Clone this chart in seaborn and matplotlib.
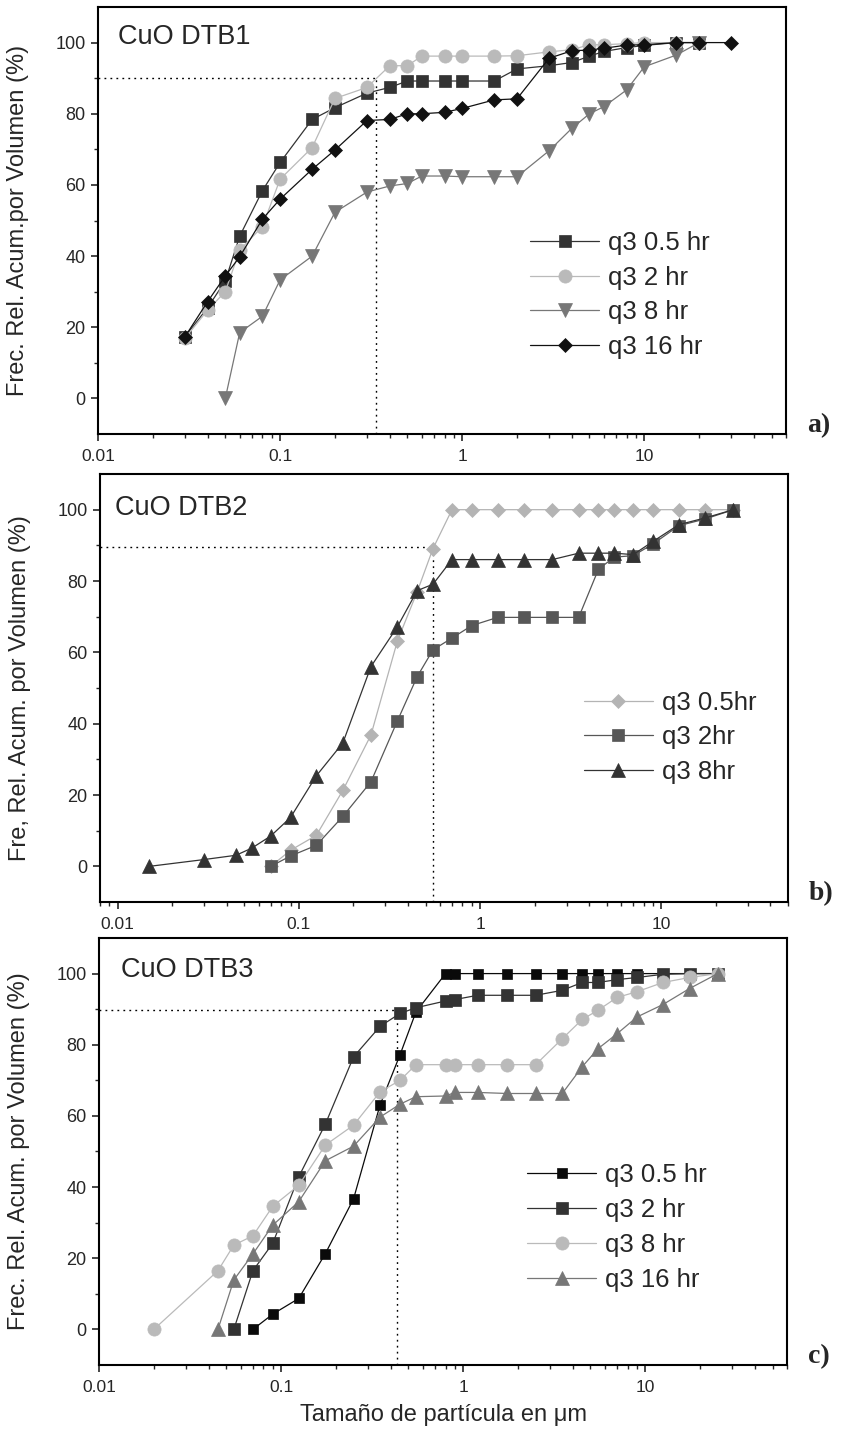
import numpy as np
import pandas as pd
import matplotlib
matplotlib.use("Agg")
import matplotlib.pyplot as plt
import seaborn as sns
from matplotlib.ticker import LogLocator, FixedLocator, NullFormatter, FixedFormatter

# ---------------- data ----------------
# Panel a) CuO DTB1
a_x_q05 = [0.03, 0.04, 0.05, 0.06, 0.08, 0.1, 0.15, 0.2, 0.3, 0.4, 0.5, 0.6, 0.8, 1, 1.5, 2, 3, 4, 5, 6, 8, 10, 15, 20]
a_q05 = [17.3, 25.5, 33, 45.6, 58.4, 66.3, 78.4, 81.7, 85.8, 87.4, 89.2, 89.2, 89.2, 89.2, 89.2, 92.6, 93.5, 94.4, 96.2, 97.5, 98.6, 99.2, 100, 100]
a_x_q2 = [0.03, 0.04, 0.05, 0.06, 0.08, 0.1, 0.15, 0.2, 0.3, 0.4, 0.5, 0.6, 0.8, 1, 1.5, 2, 3, 4, 5, 6, 8, 10, 15, 20]
a_q2 = [16.9, 24.8, 30, 41.7, 48.3, 61.6, 70.5, 84.3, 87.4, 93.5, 93.5, 96.2, 96.2, 96.2, 96.2, 96.3, 97.4, 98, 99.4, 99.4, 99.7, 100, 100, 100]
a_x_q8 = [0.05, 0.06, 0.08, 0.1, 0.15, 0.2, 0.3, 0.4, 0.5, 0.6, 0.8, 1, 1.5, 2, 3, 4, 5, 6, 8, 10, 15, 20]
a_q8 = [0, 18.5, 23.1, 33.3, 40, 52.3, 58, 59.7, 60.4, 62.5, 62.5, 62.3, 62.3, 62.3, 69.6, 75.9, 80, 82, 86.7, 93.2, 96.5, 100]
a_x_q16 = [0.03, 0.04, 0.05, 0.06, 0.08, 0.1, 0.15, 0.2, 0.3, 0.4, 0.5, 0.6, 0.8, 1, 1.5, 2, 3, 4, 5, 6, 8, 10, 15, 20, 30]
a_q16 = [17.3, 27.2, 34.4, 39.8, 50.4, 56, 64.4, 69.8, 78.1, 78.4, 80, 80, 80.4, 81.5, 83.9, 84.2, 95.6, 97.7, 97.9, 98.4, 99.3, 99.4, 100, 100, 100]
a_d90 = 0.338

# Panel b) CuO DTB2
b_x_q05 = [0.07, 0.09, 0.125, 0.175, 0.25, 0.35, 0.45, 0.55, 0.7, 0.9, 1.25, 1.75, 2.5, 3.5, 4.5, 5.5, 7, 9, 12.5, 17.5, 25]
b_q05 = [0, 4.5, 8.7, 21.3, 36.8, 63.2, 77, 89.1, 100, 100, 100, 100, 100, 100, 100, 100, 100, 100, 100, 100, 100]
b_x_q2 = [0.07, 0.09, 0.125, 0.175, 0.25, 0.35, 0.45, 0.55, 0.7, 0.9, 1.25, 1.75, 2.5, 3.5, 4.5, 5.5, 7, 9, 12.5, 17.5, 25]
b_q2 = [0, 2.9, 5.9, 14, 23.7, 40.8, 53.2, 60.7, 64, 67.5, 69.8, 69.8, 69.8, 69.8, 83.3, 86.7, 87.1, 90.4, 95.5, 97.4, 100]
b_x_q8 = [0.015, 0.03, 0.045, 0.055, 0.07, 0.09, 0.125, 0.175, 0.25, 0.35, 0.45, 0.55, 0.7, 0.9, 1.25, 1.75, 2.5, 3.5, 4.5, 5.5, 7, 9, 12.5, 17.5, 25]
b_q8 = [0, 1.9, 3.1, 5.1, 8.5, 13.7, 25.4, 34.6, 56, 67.2, 77.3, 79.1, 86, 86, 86, 86, 86, 87.8, 87.8, 87.8, 87.4, 91.1, 95.8, 97.7, 100]
b_d90 = 0.55

# Panel c) CuO DTB3
c_x_q05 = [0.07, 0.09, 0.125, 0.175, 0.25, 0.35, 0.45, 0.55, 0.8, 0.9, 1.2, 1.75, 2.5, 3.5, 4.5, 5.5, 7, 9, 12.5, 17.5, 25]
c_q05 = [0, 4.3, 8.7, 21.3, 36.7, 63.2, 77.2, 89.2, 100, 100, 100, 100, 100, 100, 100, 100, 100, 100, 100, 100, 100]
c_x_q2 = [0.055, 0.07, 0.09, 0.125, 0.175, 0.25, 0.35, 0.45, 0.55, 0.8, 0.9, 1.2, 1.75, 2.5, 3.5, 4.5, 5.5, 7, 9, 12.5, 17.5, 25]
c_q2 = [0, 16.5, 24.2, 42.9, 57.7, 76.6, 85.2, 88.8, 90.4, 92.3, 92.7, 93.9, 93.9, 93.9, 95.3, 97.5, 97.5, 98.3, 98.9, 99.8, 100, 100]
c_x_q8 = [0.02, 0.045, 0.055, 0.07, 0.09, 0.125, 0.175, 0.25, 0.35, 0.45, 0.55, 0.8, 0.9, 1.2, 1.75, 2.5, 3.5, 4.5, 5.5, 7, 9, 12.5, 17.5, 25]
c_q8 = [0, 16.5, 23.7, 26.3, 34.6, 40.5, 51.8, 57.4, 66.8, 70, 74.4, 74.4, 74.4, 74.4, 74.4, 74.4, 81.7, 87.1, 89.7, 93.3, 94.9, 97.5, 98.9, 100]
c_x_q16 = [0.045, 0.055, 0.07, 0.09, 0.125, 0.175, 0.25, 0.35, 0.45, 0.55, 0.8, 0.9, 1.2, 1.75, 2.5, 3.5, 4.5, 5.5, 7, 9, 12.5, 17.5, 25]
c_q16 = [0, 13.9, 21.2, 29.3, 35.9, 47.4, 51.5, 59.7, 63.3, 65.4, 65.6, 66.6, 66.6, 66.3, 66.3, 66.3, 73.8, 78.9, 83.1, 87.8, 91.3, 95.8, 100]
c_d90 = 0.435

x_ticks = [0.01, 0.1, 1, 10]
x_ticklabels = ["0.01", "0.1", "1", "10"]
y_ticks = [0, 20, 40, 60, 80, 100]

titles = ["CuO DTB1", "CuO DTB2", "CuO DTB3"]
ylabels = ["Frec. Rel. Acum.por Volumen (%)",
           "Fre, Rel. Acum. por Volumen (%)",
           "Frec. Rel. Acum. por Volumen (%)"]
panel_tags = ["a)", "b)", "c)"]
xlabel = "Tamaño de partícula en μm"

# ---------------- style ----------------
sns.set_style("ticks")
plt.rcParams["font.family"] = ["Liberation Sans", "DejaVu Sans"]

W, H = 857, 1435
fig = plt.figure(figsize=(W / 100, H / 100), dpi=100)

def frac_rect(l, r, t, b):
    return [l / W, 1 - b / H, (r - l) / W, (b - t) / H]

axes = [
    fig.add_axes(frac_rect(98, 786, 7, 434)),
    fig.add_axes(frac_rect(100, 788, 474, 902)),
    fig.add_axes(frac_rect(99, 787, 938, 1365)),
]
xlims = [(0.01, 60), (0.008, 50), (0.01, 60)]

# series spec: (x, y, label, color, marker, size)
panels = [
    [
        (a_x_q05, a_q05, "q3 0.5 hr", "#333333", "s", 8.5),
        (a_x_q2, a_q2, "q3 2 hr", "#bababa", "o", 9.5),
        (a_x_q8, a_q8, "q3 8 hr", "#777777", "v", 10.5),
        (a_x_q16, a_q16, "q3 16 hr", "#111111", "D", 7.5),
    ],
    [
        (b_x_q05, b_q05, "q3 0.5hr", "#b4b4b4", "D", 7.5),
        (b_x_q2, b_q2, "q3 2hr", "#575757", "s", 8.5),
        (b_x_q8, b_q8, "q3 8hr", "#333333", "^", 10.5),
    ],
    [
        (c_x_q05, c_q05, "q3 0.5 hr", "#0a0a0a", "s", 7.5),
        (c_x_q2, c_q2, "q3 2 hr", "#333333", "s", 8.5),
        (c_x_q8, c_q8, "q3 8 hr", "#bababa", "o", 9.5),
        (c_x_q16, c_q16, "q3 16 hr", "#777777", "^", 10.5),
    ],
]
d90s = [a_d90, b_d90, c_d90]
h90s = [90, 89.5, 89.7]
legend_anchor = [(0.628, 0.476), (0.703, 0.494), (0.622, 0.472)]
title_pos = [(0.029, 0.93), (0.022, 0.92), (0.032, 0.925)]

for i, ax in enumerate(axes):
    ax.set_xscale("log")
    ax.set_xlim(*xlims[i])
    ax.set_ylim(-10, 110)

    # dotted d90 guide lines
    ax.plot([xlims[i][0], d90s[i]], [h90s[i], h90s[i]], color="black", lw=1.0,
            ls=(0, (1.3, 3)), zorder=1)
    ax.plot([d90s[i], d90s[i]], [-10, h90s[i]], color="black", lw=1.0,
            ls=(0, (1.3, 3)), zorder=1)

    for (xs, ys, lab, col, mk, ms) in panels[i]:
        df = pd.DataFrame({"x": xs, "y": ys})
        sns.lineplot(data=df, x="x", y="y", ax=ax, color=col, marker=mk,
                     markersize=ms, markeredgecolor=col, markeredgewidth=0.5,
                     linewidth=0.9, label=lab, estimator=None, sort=False,
                     zorder=3)

    ax.legend(loc="upper left", bbox_to_anchor=legend_anchor[i], frameon=False,
              fontsize=18.5, handlelength=2.7, handletextpad=0.35,
              labelspacing=0.42, borderpad=0, borderaxespad=0)

    ax.text(title_pos[i][0], title_pos[i][1], titles[i], transform=ax.transAxes,
            fontsize=19.5, va="center", ha="left")

    ax.xaxis.set_major_locator(FixedLocator(x_ticks))
    ax.xaxis.set_major_formatter(FixedFormatter(x_ticklabels))
    ax.xaxis.set_minor_locator(LogLocator(base=10, subs=np.arange(2, 10)))
    ax.xaxis.set_minor_formatter(NullFormatter())
    ax.yaxis.set_major_locator(FixedLocator(y_ticks))
    ax.yaxis.set_minor_locator(FixedLocator([10, 30, 50, 70, 90]))

    ax.tick_params(which="major", direction="out", length=5, width=1.2,
                   labelsize=13, pad=4)
    ax.tick_params(which="minor", direction="out", length=3, width=1.0)
    ax.tick_params(axis="x", which="major", labelsize=12.5, pad=6)
    for sp in ax.spines.values():
        sp.set_visible(True)
        sp.set_linewidth(1.5)
        sp.set_color("black")

    ax.set_ylabel(ylabels[i], fontsize=17)
    ax.yaxis.set_label_coords(-0.1, 0.5)
    ax.set_xlabel("")

    ax.text(1.03, 0.02, panel_tags[i], transform=ax.transAxes, fontsize=20,
            fontweight="bold", family=["Liberation Serif", "DejaVu Serif"],
            ha="left", va="center")

axes[2].set_xlabel(xlabel, fontsize=17, labelpad=6)

fig.savefig("out.png", dpi=100, facecolor="white")
